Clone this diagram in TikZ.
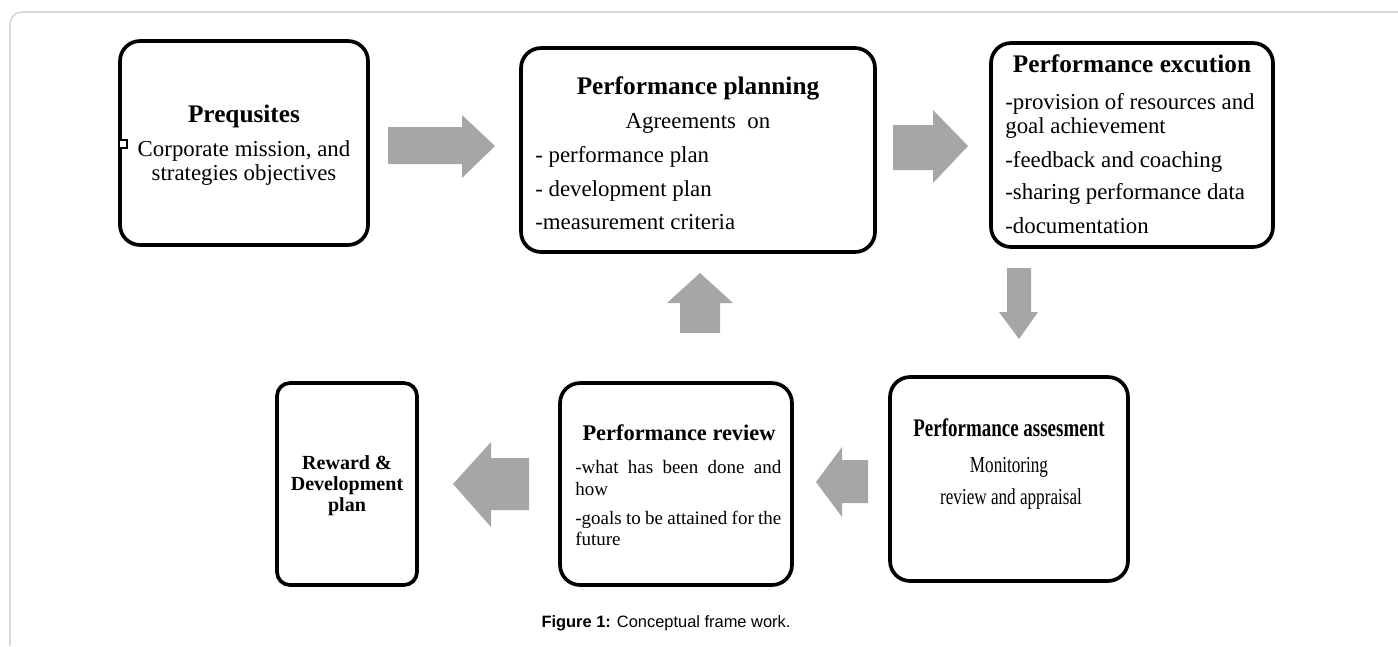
\documentclass[tikz,border=0pt]{standalone}
\usepackage{fontspec}
\setmainfont{Liberation Serif}
\newfontfamily\capfont{Liberation Sans}
\usepackage{graphicx}
\definecolor{arrowgrey}{RGB}{166,166,166}
\definecolor{framegrey}{RGB}{196,196,196}

\begin{document}
\begin{tikzpicture}[x=0.02cm,y=-0.02cm,
    stagebox/.style={draw,line width=2.1pt,rounded corners=0.4cm,inner sep=0pt},
    titletext/.style={font=\fontsize{14.4}{17}\selectfont\bfseries,inner sep=0pt,anchor=base},
    bodytext/.style={font=\fontsize{13}{15}\selectfont,inner sep=0pt,anchor=base west},
    bigarrow/.style={fill=arrowgrey}]

\useasboundingbox (0,0) rectangle (1398,646);
\draw[framegrey,line width=0.6pt,rounded corners=0.24cm] (1398,12) -- (10,12) -- (10,646);

% the six stages
\node[stagebox,minimum width=4.96cm,minimum height=4.08cm] (pre) at (244,143) {};
\node[stagebox,minimum width=7.08cm,minimum height=4.08cm] (plan) at (698,150) {};
\node[stagebox,minimum width=5.64cm,minimum height=4.08cm] (exec) at (1132,145) {};
\node[stagebox,minimum width=4.76cm,minimum height=4.08cm] (assess) at (1009,479) {};
\node[stagebox,minimum width=4.64cm,minimum height=4.04cm] (review) at (676,484) {};
\node[stagebox,minimum width=2.8cm,minimum height=4.04cm,rounded corners=0.26cm] (reward) at (347,484) {};
\node[draw,line width=1.4pt,fill=white,minimum size=0.15cm,inner sep=0pt] (pinsq) at (123,144) {};

\node[titletext] (pretitle) at (244,122) {Prequsites};
\node[bodytext,anchor=base] (pre1) at (244,156) {Corporate mission, and};
\node[bodytext,anchor=base] (pre2) at (244,180) {strategies objectives};

\node[titletext] (plantitle) at (698,94) {Performance planning};
\node[bodytext,anchor=base] (plan0) at (698,128) {Agreements\ \ on};
\node[bodytext] (plan1) at (535,162) {- performance plan};
\node[bodytext] (plan2) at (535,196) {- development plan};
\node[bodytext] (plan3) at (535,229) {-measurement criteria};

\node[titletext] (exectitle) at (1132,72) {Performance excution};
\node[bodytext] (exec1) at (1005,109) {-provision of resources and};
\node[bodytext] (exec2) at (1005,133) {goal achievement};
\node[bodytext] (exec3) at (1005,167) {-feedback and coaching};
\node[bodytext] (exec4) at (1005,199) {-sharing performance data};
\node[bodytext] (exec5) at (1005,233) {-documentation};

\node[titletext] (assesstitle) at (1009,436) {\scalebox{0.75}[1]{Performance assesment}};
\node[bodytext,anchor=base] (assess1) at (1009,472) {\scalebox{0.75}[1]{Monitoring}};
\node[bodytext,anchor=base] (assess2) at (1011,504) {\scalebox{0.75}[1]{review and appraisal}};

\node[titletext,font=\fontsize{12.75}{15}\selectfont\bfseries] (reviewtitle) at (679,440) {Performance review};
\node[bodytext,font=\fontsize{10.8}{12}\selectfont] (review1) at (575,473) {\makebox[4.12cm][s]{-what has been done and}};
\node[bodytext,font=\fontsize{10.8}{12}\selectfont] (review2) at (575,495) {how};
\node[bodytext,font=\fontsize{10.8}{12}\selectfont] (review3) at (575,524) {\makebox[4.12cm][s]{-goals to be attained for the}};
\node[bodytext,font=\fontsize{10.8}{12}\selectfont] (review4) at (575,545) {future};

\node[titletext,font=\fontsize{11.4}{13}\selectfont\bfseries] (reward1) at (347,469) {Reward \&};
\node[titletext,font=\fontsize{11.4}{13}\selectfont\bfseries] (reward2) at (347,490) {Development};
\node[titletext,font=\fontsize{11.4}{13}\selectfont\bfseries] (reward3) at (347,511) {plan};

% block arrows between the stages
\fill[bigarrow] (388,127) -- (462,127) -- (462,115) -- (495,146) -- (462,178) -- (462,164) -- (388,164) -- cycle;
\fill[bigarrow] (893,125) -- (933,125) -- (933,110) -- (968,146) -- (933,183) -- (933,170) -- (893,170) -- cycle;
\fill[bigarrow] (1007,268) -- (1031,268) -- (1031,312) -- (1038,312) -- (1019,339) -- (999,312) -- (1007,312) -- cycle;
\fill[bigarrow] (868,460) -- (842,460) -- (842,447) -- (816,482) -- (842,517) -- (842,503) -- (868,503) -- cycle;
\fill[bigarrow] (680,333) -- (680,303) -- (667,303) -- (700,273) -- (733,303) -- (720,303) -- (720,333) -- cycle;
\fill[bigarrow] (529,458) -- (491,458) -- (491,442) -- (453,484) -- (491,527) -- (491,510) -- (529,510) -- cycle;

\node[font=\capfont\fontsize{9.35}{11}\selectfont,inner sep=0pt,anchor=base] (caption) at (666,627) {\textbf{Figure 1:} Conceptual frame work.};
\end{tikzpicture}
\end{document}
